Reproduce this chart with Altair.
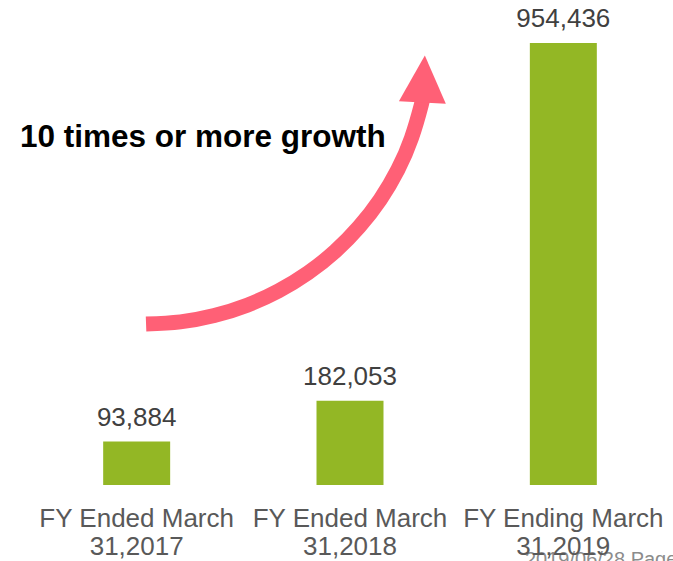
import altair as alt
import pandas as pd

# ---- data ----
categories = ["FY Ended March\n31,2017", "FY Ended March\n31,2018", "FY Ending March\n31,2019"]
values = [93884, 182053, 954436]
value_labels = ["93,884", "182,053", "954,436"]

annotation = "10 times or more growth"
footer = "2019/06/28 Page"

# growth arrow path, in data units (x: category index 0..3, y: value)
arrow_x = [0.544, 0.705, 0.864, 1.018, 1.165, 1.303, 1.430, 1.543, 1.642, 1.724, 1.788, 1.834, 1.844]
arrow_y = [347700, 352300, 365900, 388300, 419200, 458100, 504500, 557700, 616600, 680800, 749200, 820500, 841500]
head_x = [1.845]
head_y = [877000]

FONT = "Liberation Sans"
GREEN = "#93B725"
PINK = "#FF6076"
Y_MAX = 1000000

bars_df = pd.DataFrame({"category": categories, "value": values, "label": value_labels})
arrow_df = pd.DataFrame({"u": arrow_x, "v": arrow_y, "i": list(range(len(arrow_x)))})
head_df = pd.DataFrame({"u": head_x, "v": head_y})

y_scale = alt.Scale(domain=[0, Y_MAX], nice=False, zero=True)
x_scale = alt.Scale(paddingInner=0.686, paddingOuter=0.343)

x_enc = alt.X(
    "category:N",
    sort=categories,
    scale=x_scale,
    axis=alt.Axis(
        title=None,
        labelExpr="split(datum.label, '\\n')",
        labelFont=FONT,
        labelFontSize=26,
        labelColor="#595959",
        labelLineHeight=28,
        labelPadding=20,
        labelAngle=0,
        labelLimit=0,
        ticks=False,
        tickSize=0,
        domain=False,
        grid=False,
        zindex=1,
    ),
)

y_enc = alt.Y(
    "value:Q",
    scale=y_scale,
    axis=alt.Axis(
        title=None,
        labels=False,
        ticks=False,
        domain=False,
        values=[0, 200000, 400000, 600000, 800000, 1000000],
        gridColor="#D9D9D9",
        gridWidth=1.6,
        zindex=0,
    ),
)

base = alt.Chart(bars_df)

bars = base.mark_bar(color=GREEN).encode(x=x_enc, y=y_enc)

labels = base.mark_text(
    baseline="alphabetic", dy=-16, fontSize=26, font=FONT, color="#404040"
).encode(
    x=alt.X("category:N", sort=categories, scale=x_scale, axis=None),
    y=alt.Y("value:Q", scale=y_scale, axis=None),
    text="label:N",
)

ux = alt.X("u:Q", scale=alt.Scale(domain=[0, 3], nice=False, zero=False), axis=None)
vy = alt.Y("v:Q", scale=y_scale, axis=None)

arrow_line = alt.Chart(arrow_df).mark_line(
    color=PINK, strokeWidth=15, interpolate="natural", strokeCap="butt"
).encode(x=ux, y=vy, order="i:Q")

arrow_head = alt.Chart(head_df).mark_point(
    shape="M0,-1L-1,1L1,1Z", filled=True, size=2209, color=PINK,
    opacity=1, strokeWidth=0, angle=3,
).encode(x=ux, y=vy)

note = alt.Chart(pd.DataFrame({"t": [annotation]})).mark_text(
    align="left", baseline="alphabetic", fontSize=31.5, fontWeight="bold",
    font=FONT, color="#000000",
).encode(x=alt.value(-10), y=alt.value(125), text="t:N")

foot = alt.Chart(pd.DataFrame({"t": [footer]})).mark_text(
    align="left", baseline="alphabetic", fontSize=20, font=FONT, color="#8C8C8C",
).encode(x=alt.value(495), y=alt.value(544), text="t:N")

chart = (
    alt.layer(foot, bars, labels, arrow_line, arrow_head, note)
    .resolve_scale(x="independent")
    .properties(
        width=640,
        height=463,
        autosize="none",
        padding={"left": 30, "top": 22, "right": 3, "bottom": 76},
        background="#FFFFFF",
    )
    .configure_view(stroke=None)
)

chart.save("out.html", embed_options={"renderer": "svg", "actions": False})
